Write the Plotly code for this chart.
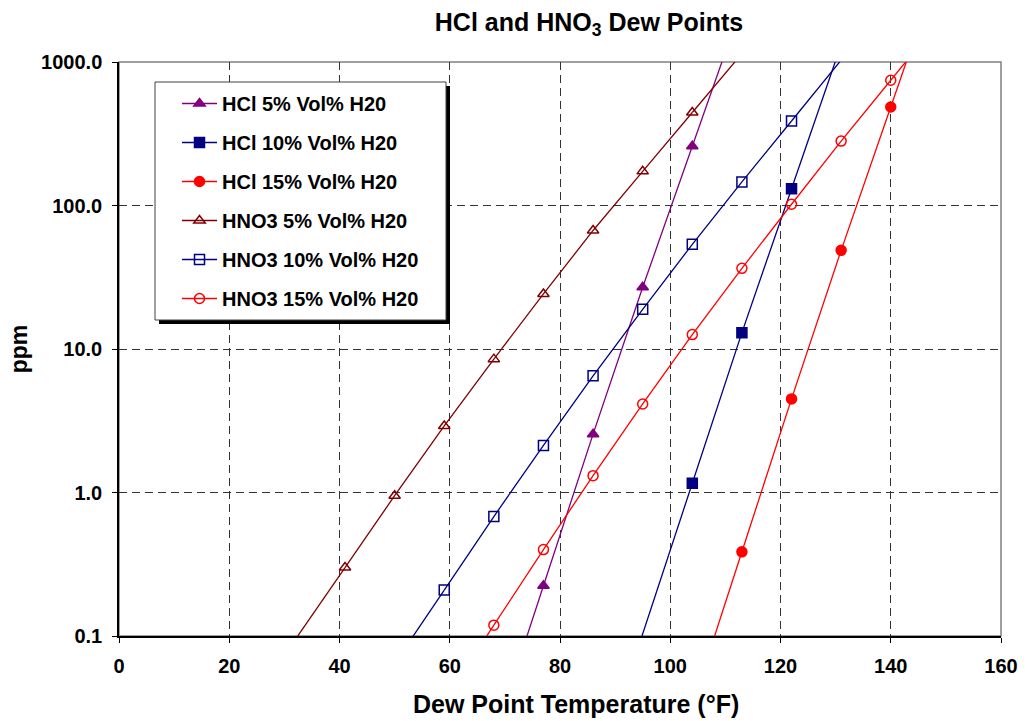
import numpy as np
import plotly.graph_objects as go

# Dew point temperature (°F) and concentration (ppm) for each series
hcl5_x = [77, 86, 95, 104]
hcl5_y = [0.224, 2.55, 26.9, 259]

hcl10_x = [104, 113, 122]
hcl10_y = [1.16, 13.0, 131]

hcl15_x = [113, 122, 131, 140]
hcl15_y = [0.386, 4.49, 48.7, 486]

hno3_5_x = [41, 50, 59, 68, 77, 86, 95, 104]
hno3_5_y = [0.30, 0.95, 2.91, 8.5, 24.2, 67, 173, 445]

hno3_10_x = [59, 68, 77, 86, 95, 104, 113, 122]
hno3_10_y = [0.209, 0.68, 2.13, 6.5, 18.9, 53.6, 146, 388]

hno3_15_x = [68, 77, 86, 95, 104, 113, 122, 131, 140]
hno3_15_y = [0.119, 0.40, 1.31, 4.14, 12.6, 36.5, 102, 281, 746]

x_ticks = [0, 20, 40, 60, 80, 100, 120, 140, 160]
y_ticks = [0.1, 1, 10, 100, 1000]
y_tick_text = ["0.1", "1.0", "10.0", "100.0", "1000.0"]

series = [
    ("HCl 5% Vol% H20", hcl5_x, hcl5_y, "#800080", "triangle-up"),
    ("HCl 10% Vol% H20", hcl10_x, hcl10_y, "#000080", "square"),
    ("HCl 15% Vol% H20", hcl15_x, hcl15_y, "#FF0000", "circle"),
    ("HNO3 5% Vol% H20", hno3_5_x, hno3_5_y, "#800000", "triangle-up-open"),
    ("HNO3 10% Vol% H20", hno3_10_x, hno3_10_y, "#000080", "square-open"),
    ("HNO3 15% Vol% H20", hno3_15_x, hno3_15_y, "#FF0000", "circle-open"),
]

FONT = "Liberation Sans, Arial, sans-serif"
Y_LO, Y_HI = -1.05, 3.05  # log10 limits for the extended end segments

fig = go.Figure()


def extend(xa, ya, xb, yb, target):
    """Continue the segment (xa,ya)-(xb,yb) on the log axis until log10(y) == target."""
    s = (np.log10(yb) - np.log10(ya)) / (xb - xa)
    return xa + (target - np.log10(ya)) / s, 10 ** target


for i, (name, xs, ys, color, symbol) in enumerate(series):
    # lines continued past the first and last points to the edges of the plot
    x_lo, y_lo = extend(xs[0], ys[0], xs[1], ys[1], Y_LO)
    x_hi, y_hi = extend(xs[-2], ys[-2], xs[-1], ys[-1], Y_HI)
    for ex, ey, px, py in ((x_lo, y_lo, xs[0], ys[0]), (x_hi, y_hi, xs[-1], ys[-1])):
        fig.add_trace(go.Scatter(
            x=[ex, px], y=[ey, py], mode="lines", line=dict(color=color, width=1.3),
            showlegend=False, hoverinfo="skip", legendgroup=f"g{i}",
        ))
    fig.add_trace(go.Scatter(
        x=xs, y=ys, mode="lines+markers", name=name, legendgroup=f"g{i}",
        line=dict(color=color, width=1.3),
        marker=dict(symbol=symbol, size=10,
                    color=color, line=dict(color=color, width=1.5)),
    ))


def px_x(p):
    return (p - 119) / 882


def px_y(p):
    return (636 - p) / 574


# legend box with its drop shadow
fig.add_shape(type="rect", xref="paper", yref="paper",
              x0=px_x(159), x1=px_x(450), y0=px_y(324), y1=px_y(86),
              fillcolor="black", line=dict(width=0), layer="above")
fig.add_shape(type="rect", xref="paper", yref="paper",
              x0=px_x(155), x1=px_x(446), y0=px_y(320), y1=px_y(82),
              fillcolor="white", line=dict(color="#404040", width=1), layer="above")

# plot area frame
fig.add_shape(type="rect", xref="paper", yref="paper", x0=0, x1=1, y0=0, y1=1,
              line=dict(color="#808080", width=1.5), layer="below")

# x-axis title
fig.add_annotation(text="<b>Dew Point Temperature (°F)</b>", xref="paper", yref="paper",
                   x=px_x(576), y=px_y(704), xanchor="center", yanchor="middle",
                   showarrow=False, font=dict(family=FONT, size=25, color="black"))

fig.update_layout(
    width=1034, height=721,
    margin=dict(l=119, r=33, t=62, b=85),
    paper_bgcolor="white", plot_bgcolor="white",
    font=dict(family=FONT, size=16, color="black"),
    title=dict(text="<b>HCl and HNO<sub>3</sub> Dew Points</b>",
               x=px_x(589), xref="paper", xanchor="center",
               y=1 - 22 / 721, yanchor="middle",
               font=dict(family=FONT, size=25, color="black")),
    showlegend=True,
    legend=dict(x=px_x(177), y=px_y(84), xanchor="left", yanchor="top",
                bgcolor="rgba(0,0,0,0)", borderwidth=0,
                font=dict(family=FONT, size=20, color="black", weight="bold"),
                itemwidth=35, tracegroupgap=10, traceorder="grouped"),
    xaxis=dict(range=[0, 160], tickvals=x_ticks, ticks="outside", ticklen=5,
               tickcolor="black", showline=True, linecolor="black", linewidth=1.5,
               showgrid=True, gridcolor="#333333", gridwidth=1, griddash="8px,5px",
               zeroline=False, ticklabelstandoff=6,
               tickfont=dict(family=FONT, size=20, color="black", weight="bold")),
    yaxis=dict(type="log", range=[-1, 3], tickvals=y_ticks, ticktext=y_tick_text,
               ticks="outside", ticklen=5, tickcolor="black",
               showline=True, linecolor="black", linewidth=1.5,
               showgrid=True, gridcolor="#333333", gridwidth=1, griddash="8px,5px",
               zeroline=False, ticklabelstandoff=6,
               tickfont=dict(family=FONT, size=20, color="black", weight="bold"),
               title=dict(text="<b>ppm</b>",
                          font=dict(family=FONT, size=23, color="black"), standoff=7)),
)

fig.write_html("out.html")
